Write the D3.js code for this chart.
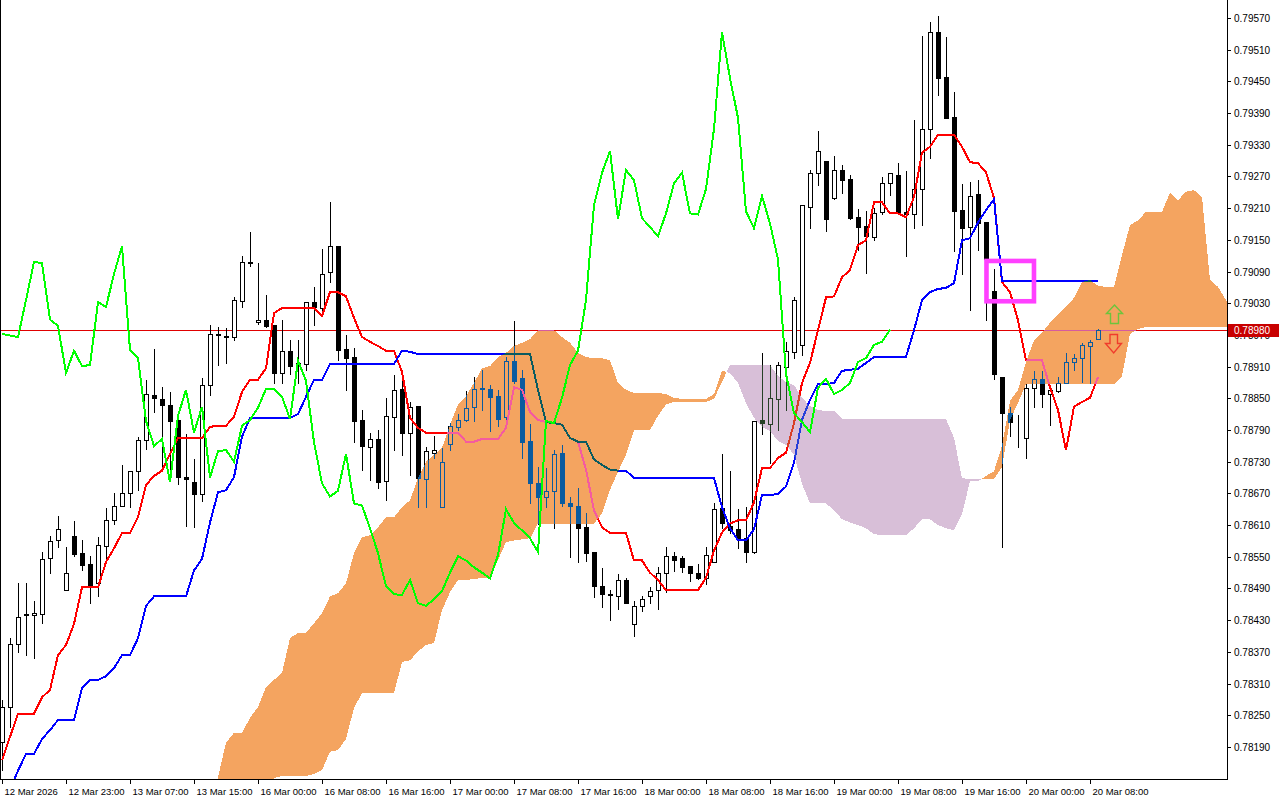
<!DOCTYPE html>
<html><head><meta charset="utf-8">
<script src="https://cdn.jsdelivr.net/npm/d3@7"></script>
<style>
html,body{margin:0;padding:0;background:#fff;}
svg{display:block;}
text{font-family:"Liberation Sans",Arial,sans-serif;fill:#000;}
</style></head><body>
<svg id="chart" width="1280" height="800"></svg>
<script>
// ---- DATA (H1 bars, index 0..137) ----
const timeLabels = ["12 Mar 2026","12 Mar 23:00","13 Mar 07:00","13 Mar 15:00","16 Mar 00:00","16 Mar 08:00","16 Mar 16:00","17 Mar 00:00","17 Mar 08:00","17 Mar 16:00","18 Mar 00:00","18 Mar 08:00","18 Mar 16:00","19 Mar 00:00","19 Mar 08:00","19 Mar 16:00","20 Mar 00:00","20 Mar 08:00"];
const priceTicks = [0.79570,0.79510,0.79450,0.79390,0.79330,0.79270,0.79210,0.79150,0.79090,0.79030,0.78970,0.78910,0.78850,0.78790,0.78730,0.78670,0.78610,0.78550,0.78490,0.78430,0.78370,0.78310,0.78250,0.78190];
const lastPrice = 0.78980;

const opens = [0.78199,0.78266,0.78385,0.78439,0.78440,0.78441,0.78547,0.78581,0.78488,0.78589,0.78557,0.78536,0.78500,0.78570,0.78619,0.78646,0.78671,0.78713,0.78771,0.78856,0.78849,0.78838,0.78809,0.78701,0.78691,0.78669,0.78875,0.78971,0.78968,0.78966,0.79034,0.79108,0.78994,0.78999,0.78989,0.78898,0.78940,0.78917,0.78915,0.79032,0.79021,0.79089,0.79138,0.78943,0.78928,0.78809,0.78758,0.78773,0.78693,0.78815,0.78868,0.78785,0.78836,0.78697,0.78747,0.78644,0.78764,0.78796,0.78809,0.78834,0.78869,0.78868,0.78855,0.78815,0.78921,0.78889,0.78769,0.78689,0.78664,0.78675,0.78747,0.78651,0.78647,0.78606,0.78559,0.78494,0.78480,0.78475,0.78506,0.78423,0.78457,0.78475,0.78487,0.78520,0.78551,0.78547,0.78532,0.78520,0.78509,0.78540,0.78642,0.78608,0.78602,0.78585,0.78559,0.78809,0.78802,0.78849,0.78909,0.78938,0.78951,0.79212,0.79277,0.79300,0.79229,0.79282,0.79265,0.79193,0.79176,0.79155,0.79202,0.79257,0.79273,0.79202,0.79198,0.79246,0.79360,0.79543,0.79458,0.79383,0.79206,0.79174,0.79237,0.79183,0.79053,0.78890,0.78822,0.78787,0.78775,0.78870,0.78887,0.78858,0.78864,0.78879,0.78919,0.78926,0.78949,0.78962];
const highs = [0.78279,0.78396,0.78500,0.78500,0.78466,0.78559,0.78589,0.78627,0.78568,0.78617,0.78581,0.78551,0.78587,0.78642,0.78671,0.78724,0.78713,0.78777,0.78885,0.78943,0.78871,0.78862,0.78824,0.78783,0.78735,0.78888,0.78989,0.78985,0.78983,0.79042,0.79119,0.79164,0.79106,0.79046,0.78989,0.78998,0.78960,0.78960,0.79032,0.79061,0.79132,0.79221,0.79138,0.78970,0.78945,0.78828,0.78785,0.78790,0.78851,0.78894,0.78885,0.78843,0.78836,0.78758,0.78779,0.78756,0.78803,0.78820,0.78864,0.78890,0.78904,0.78875,0.78866,0.78928,0.78996,0.78904,0.78802,0.78720,0.78718,0.78752,0.78762,0.78664,0.78681,0.78632,0.78559,0.78528,0.78487,0.78517,0.78510,0.78466,0.78475,0.78492,0.78530,0.78568,0.78559,0.78551,0.78532,0.78536,0.78568,0.78651,0.78745,0.78713,0.78640,0.78644,0.78807,0.78936,0.78913,0.78919,0.78957,0.79042,0.79216,0.79282,0.79356,0.79300,0.79309,0.79291,0.79273,0.79208,0.79204,0.79210,0.79269,0.79277,0.79296,0.79280,0.79377,0.79536,0.79562,0.79574,0.79534,0.79430,0.79256,0.79260,0.79263,0.79183,0.79094,0.78890,0.78834,0.78819,0.78877,0.78902,0.78902,0.78871,0.78890,0.78936,0.78934,0.78955,0.78960,0.78981];
const lows = [0.78146,0.78228,0.78370,0.78364,0.78358,0.78424,0.78520,0.78568,0.78488,0.78551,0.78525,0.78462,0.78475,0.78540,0.78612,0.78646,0.78644,0.78677,0.78754,0.78824,0.78713,0.78696,0.78687,0.78608,0.78606,0.78655,0.78856,0.78913,0.78917,0.78960,0.79023,0.79100,0.78991,0.78985,0.78879,0.78879,0.78896,0.78879,0.78904,0.78989,0.79017,0.79070,0.78922,0.78866,0.78768,0.78715,0.78696,0.78680,0.78657,0.78752,0.78743,0.78705,0.78644,0.78644,0.78737,0.78644,0.78752,0.78790,0.78807,0.78807,0.78828,0.78788,0.78798,0.78800,0.78879,0.78737,0.78651,0.78613,0.78644,0.78604,0.78647,0.78549,0.78540,0.78542,0.78473,0.78455,0.78430,0.78451,0.78462,0.78400,0.78447,0.78462,0.78451,0.78483,0.78523,0.78521,0.78504,0.78508,0.78498,0.78540,0.78604,0.78595,0.78566,0.78540,0.78557,0.78783,0.78728,0.78790,0.78828,0.78926,0.78932,0.79172,0.79254,0.79166,0.79227,0.79239,0.79189,0.79130,0.79087,0.79149,0.79198,0.79235,0.79198,0.79119,0.79172,0.79178,0.79305,0.79424,0.79381,0.79129,0.79085,0.79017,0.79130,0.78998,0.78886,0.78568,0.78779,0.78758,0.78737,0.78834,0.78834,0.78800,0.78862,0.78879,0.78904,0.78881,0.78879,0.78962];
const closes = [0.78266,0.78385,0.78436,0.78441,0.78443,0.78545,0.78579,0.78602,0.78520,0.78555,0.78534,0.78494,0.78572,0.78619,0.78646,0.78671,0.78713,0.78771,0.78858,0.78851,0.78838,0.78807,0.78701,0.78697,0.78669,0.78875,0.78972,0.78969,0.78966,0.79036,0.79108,0.79106,0.78999,0.78987,0.78898,0.78940,0.78911,0.78913,0.79032,0.79023,0.79085,0.79138,0.78942,0.78926,0.78807,0.78760,0.78773,0.78691,0.78817,0.78866,0.78785,0.78834,0.78700,0.78750,0.78752,0.78730,0.78798,0.78809,0.78832,0.78868,0.78867,0.78853,0.78811,0.78921,0.78883,0.78767,0.78689,0.78664,0.78675,0.78745,0.78651,0.78647,0.78604,0.78557,0.78494,0.78479,0.78478,0.78506,0.78462,0.78457,0.78470,0.78485,0.78520,0.78551,0.78543,0.78530,0.78520,0.78509,0.78553,0.78640,0.78614,0.78600,0.78585,0.78559,0.78807,0.78803,0.78851,0.78913,0.78940,0.79036,0.79216,0.79277,0.79318,0.79189,0.79282,0.79263,0.79191,0.79174,0.79157,0.79200,0.79257,0.79277,0.79200,0.79198,0.79246,0.79360,0.79543,0.79456,0.79381,0.79204,0.79172,0.79233,0.79181,0.79113,0.78896,0.78822,0.78805,0.78786,0.78870,0.78887,0.78858,0.78866,0.78879,0.78919,0.78926,0.78951,0.78957,0.78980];

const tenkan = [0.78165,0.78209,0.78253,0.78253,0.78253,0.78284,0.78298,0.78364,0.78383,0.78423,0.78492,0.78492,0.78492,0.78540,0.78566,0.78595,0.78595,0.78625,0.78686,0.78703,0.78713,0.78745,0.78775,0.78775,0.78775,0.78775,0.78796,0.78798,0.78798,0.78815,0.78862,0.78885,0.78885,0.78907,0.79011,0.79021,0.79021,0.79021,0.79021,0.79021,0.79006,0.79051,0.79051,0.79043,0.79002,0.78966,0.78957,0.78949,0.78940,0.78940,0.78900,0.78813,0.78794,0.78785,0.78785,0.78785,0.78785,0.78785,0.78768,0.78768,0.78773,0.78773,0.78773,0.78794,0.78871,0.78866,0.78824,0.78809,0.78805,0.78803,0.78800,0.78775,0.78768,0.78715,0.78638,0.78606,0.78595,0.78595,0.78595,0.78543,0.78543,0.78520,0.78506,0.78487,0.78487,0.78487,0.78487,0.78487,0.78510,0.78562,0.78596,0.78613,0.78619,0.78619,0.78653,0.78718,0.78718,0.78737,0.78747,0.78803,0.78879,0.78917,0.78979,0.79041,0.79043,0.79079,0.79093,0.79140,0.79149,0.79221,0.79221,0.79200,0.79200,0.79193,0.79231,0.79315,0.79326,0.79349,0.79349,0.79349,0.79326,0.79297,0.79295,0.79278,0.79229,0.79070,0.79051,0.78998,0.78922,0.78922,0.78922,0.78871,0.78828,0.78752,0.78834,0.78843,0.78851,0.78890];
const kijun = [0.78080,0.78109,0.78145,0.78177,0.78177,0.78205,0.78222,0.78241,0.78241,0.78241,0.78301,0.78317,0.78317,0.78324,0.78339,0.78364,0.78364,0.78396,0.78457,0.78475,0.78475,0.78475,0.78475,0.78475,0.78524,0.78546,0.78615,0.78672,0.78676,0.78701,0.78777,0.78813,0.78813,0.78813,0.78813,0.78813,0.78813,0.78820,0.78853,0.78885,0.78885,0.78915,0.78915,0.78915,0.78915,0.78915,0.78915,0.78915,0.78915,0.78915,0.78940,0.78938,0.78934,0.78934,0.78934,0.78934,0.78934,0.78934,0.78934,0.78934,0.78934,0.78934,0.78934,0.78934,0.78934,0.78934,0.78934,0.78866,0.78805,0.78803,0.78800,0.78775,0.78768,0.78768,0.78734,0.78724,0.78715,0.78713,0.78713,0.78699,0.78699,0.78699,0.78699,0.78699,0.78699,0.78699,0.78699,0.78699,0.78699,0.78699,0.78644,0.78604,0.78581,0.78581,0.78602,0.78667,0.78667,0.78669,0.78683,0.78728,0.78809,0.78847,0.78877,0.78877,0.78879,0.78902,0.78904,0.78906,0.78917,0.78928,0.78928,0.78928,0.78928,0.78928,0.78979,0.79036,0.79051,0.79057,0.79059,0.79068,0.79149,0.79153,0.79183,0.79206,0.79227,0.79072,0.79072,0.79072,0.79072,0.79072,0.79072,0.79072,0.79072,0.79072,0.79072,0.79072,0.79072,0.79072];
// Senkou spans, first value belongs to bar 26 (already shifted forward)
const spanStart = 26;
const senkouA = [0.78080,0.78133,0.78198,0.78217,0.78217,0.78245,0.78266,0.78303,0.78317,0.78330,0.78396,0.78406,0.78406,0.78424,0.78443,0.78475,0.78481,0.78500,0.78557,0.78587,0.78591,0.78606,0.78625,0.78625,0.78644,0.78657,0.78699,0.78730,0.78743,0.78756,0.78800,0.78838,0.78854,0.78879,0.78907,0.78911,0.78928,0.78936,0.78949,0.78955,0.78962,0.78979,0.78979,0.78979,0.78966,0.78955,0.78936,0.78928,0.78926,0.78926,0.78922,0.78879,0.78866,0.78860,0.78860,0.78860,0.78860,0.78858,0.78851,0.78849,0.78849,0.78849,0.78849,0.78858,0.78902,0.78898,0.78879,0.78841,0.78813,0.78796,0.78788,0.78769,0.78762,0.78743,0.78688,0.78651,0.78651,0.78651,0.78638,0.78621,0.78615,0.78610,0.78604,0.78593,0.78591,0.78591,0.78591,0.78591,0.78604,0.78621,0.78621,0.78610,0.78604,0.78600,0.78631,0.78693,0.78693,0.78703,0.78712,0.78760,0.78845,0.78866,0.78919,0.78960,0.78974,0.78993,0.79008,0.79023,0.79040,0.79070,0.79074,0.79063,0.79061,0.79061,0.79121,0.79178,0.79187,0.79203,0.79203,0.79203,0.79239,0.79225,0.79241,0.79244,0.79231,0.79074,0.79061,0.79036,0.78998];
const senkouB = [0.78040,0.78040,0.78040,0.78040,0.78040,0.78040,0.78040,0.78118,0.78131,0.78135,0.78135,0.78135,0.78135,0.78139,0.78146,0.78181,0.78184,0.78205,0.78264,0.78292,0.78292,0.78292,0.78292,0.78292,0.78351,0.78354,0.78371,0.78383,0.78387,0.78449,0.78483,0.78506,0.78506,0.78508,0.78510,0.78510,0.78544,0.78578,0.78581,0.78583,0.78585,0.78613,0.78613,0.78613,0.78613,0.78613,0.78613,0.78613,0.78613,0.78632,0.78677,0.78711,0.78743,0.78790,0.78790,0.78790,0.78817,0.78838,0.78843,0.78843,0.78843,0.78843,0.78843,0.78849,0.78881,0.78913,0.78913,0.78913,0.78913,0.78913,0.78913,0.78892,0.78881,0.78875,0.78851,0.78835,0.78828,0.78826,0.78826,0.78811,0.78811,0.78811,0.78811,0.78811,0.78811,0.78811,0.78811,0.78811,0.78811,0.78811,0.78811,0.78811,0.78811,0.78775,0.78699,0.78697,0.78697,0.78697,0.78697,0.78720,0.78809,0.78841,0.78877,0.78877,0.78877,0.78877,0.78877,0.78877,0.78877,0.78877,0.78877,0.78877,0.78877,0.78877,0.78892,0.78972,0.78981,0.78985,0.78985,0.78985,0.78985,0.78985,0.78985,0.78985,0.78985,0.78985,0.78985,0.78985,0.78985];
const chikouShift = 26;

// ---- LAYOUT ----
const W = 1280, H = 800, plotR = 1227, plotB = 779;
const x = d3.scaleLinear().domain([0, 153]).range([2, 1226]);
const y = d3.scaleLinear().domain([0.7957, 0.7819]).range([17.96, 746.97]);

const svg = d3.select('#chart');
svg.append('rect').attr('width', W).attr('height', H).attr('fill', '#fff');
svg.append('defs').append('clipPath').attr('id', 'clip')
  .append('rect').attr('x', 0).attr('y', 0).attr('width', plotR).attr('height', plotB);
const g = svg.append('g').attr('clip-path', 'url(#clip)');
g.append('rect').attr('width', plotR).attr('height', plotB).attr('fill', '#fff');

// price (bid) line
const py = Math.round(y(lastPrice)) + 0.5;
g.append('line').attr('x1', 0).attr('x2', plotR).attr('y1', py).attr('y2', py)
  .attr('stroke', '#e00000').attr('stroke-width', 1).attr('shape-rendering', 'crispEdges');

// candles
const cg = g.append('g').attr('shape-rendering', 'crispEdges');
opens.forEach((o, i) => {
  const c = closes[i], cx = Math.round(x(i));
  cg.append('line').attr('x1', cx + 0.5).attr('x2', cx + 0.5)
    .attr('y1', Math.round(y(highs[i]))).attr('y2', Math.round(y(lows[i])) + 1)
    .attr('stroke', '#000');
  const t = Math.round(y(Math.max(o, c))), b = Math.round(y(Math.min(o, c)));
  cg.append('rect').attr('x', cx - 1.5).attr('y', t + 0.5)
    .attr('width', 4).attr('height', Math.max(b - t, 0))
    .attr('fill', c >= o ? '#fff' : '#000').attr('stroke', '#000');
});

const line = d3.line().x(d => x(d[0])).y(d => y(d[1]));
g.append('path').attr('d', line(tenkan.map((v, i) => [i, v])))
  .attr('fill', 'none').attr('stroke', '#ff0000').attr('stroke-width', 2).attr('shape-rendering', 'crispEdges');
g.append('path').attr('d', line(kijun.map((v, i) => [i, v])))
  .attr('fill', 'none').attr('stroke', '#0000ff').attr('stroke-width', 2).attr('shape-rendering', 'crispEdges');

// cloud (XOR-like drawing emulated with difference blending)
const runs = []; let cur = null;
for (let k = 0; k < senkouA.length; k++) {
  const a = senkouA[k], b = senkouB[k], xi = spanStart + k, s = a >= b ? 1 : -1;
  if (!cur) { cur = {s, top: [[xi, a]], bot: [[xi, b]]}; continue; }
  if (s !== cur.s) {
    const pa = senkouA[k - 1], pb = senkouB[k - 1];
    const d0 = pa - pb, d1 = a - b, t = d0 / (d0 - d1);
    const xc = xi - 1 + t, vc = pa + (a - pa) * t;
    cur.top.push([xc, vc]); cur.bot.push([xc, vc]); runs.push(cur);
    cur = {s, top: [[xc, vc], [xi, a]], bot: [[xc, vc], [xi, b]]};
  } else { cur.top.push([xi, a]); cur.bot.push([xi, b]); }
}
runs.push(cur);
runs.forEach(r => {
  const pts = r.top.concat(r.bot.slice().reverse());
  g.append('path').attr('d', 'M' + pts.map(p => x(p[0]) + ',' + y(p[1])).join('L') + 'Z')
    .attr('fill', r.s > 0 ? 'rgb(11,91,159)' : 'rgb(39,64,39)')
    .attr('shape-rendering', 'crispEdges')
    .style('mix-blend-mode', 'difference');
});

// chikou span = closes shifted back 26 bars
const chikou = closes.map((v, i) => [i - chikouShift, v]).filter(d => d[0] >= 0);
g.append('path').attr('d', line(chikou))
  .attr('fill', 'none').attr('stroke', '#00ff00').attr('stroke-width', 2).attr('shape-rendering', 'crispEdges');

// magenta marker box
g.append('rect').attr('x', x(123.06)).attr('y', y(0.79110)).attr('width', 47.5).attr('height', 40.3)
  .attr('fill', 'none').attr('stroke', '#ff40ff').attr('stroke-width', 4.6);

// arrows
g.append('path').attr('d', 'M1114.5,305 L1122.5,313.5 L1118.5,313.5 L1118.5,323.5 L1110.5,323.5 L1110.5,313.5 L1106.5,313.5 Z')
  .attr('fill', 'none').attr('stroke', '#6cc43c').attr('stroke-width', 1.4);
g.append('path').attr('d', 'M1110,334.5 L1117.5,334.5 L1117.5,343.5 L1121.5,343.5 L1113.7,353 L1105.5,343.5 L1110,343.5 Z')
  .attr('fill', 'none').attr('stroke', '#f03c2c').attr('stroke-width', 1.4);

// left border
svg.append('line').attr('x1', 0.5).attr('x2', 0.5).attr('y1', 0).attr('y2', plotB).attr('stroke', '#000');

// axes
svg.append('line').attr('x1', plotR + 0.5).attr('x2', plotR + 0.5).attr('y1', 0).attr('y2', plotB + 1).attr('stroke', '#000');
svg.append('line').attr('x1', 0).attr('x2', plotR + 1).attr('y1', plotB + 0.5).attr('y2', plotB + 0.5).attr('stroke', '#000');

priceTicks.forEach(p => {
  const ty = Math.round(y(p)) + 0.5;
  svg.append('line').attr('x1', plotR).attr('x2', plotR + 4).attr('y1', ty).attr('y2', ty).attr('stroke', '#000');
  svg.append('text').attr('x', plotR + 7).attr('y', ty).attr('dy', '0.35em')
    .style('font-size', '10px').text(p.toFixed(5));
});
timeLabels.forEach((s, k) => {
  const tx = Math.round(x(k * 8)) + 0.5;
  svg.append('line').attr('x1', tx).attr('x2', tx).attr('y1', plotB).attr('y2', plotB + 5).attr('stroke', '#000');
  svg.append('text').attr('x', tx + 2).attr('y', 795).style('font-size', '9.5px').text(s);
});

// current price label (drawn over the 0.78970 grid label, as in the terminal)
svg.append('rect').attr('x', plotR + 1).attr('y', py - 6.5).attr('width', 51).attr('height', 13).attr('fill', '#c80000');
svg.append('text').attr('x', plotR + 7).attr('y', py).attr('dy', '0.35em')
  .style('font-size', '10px').style('fill', '#fff').text(lastPrice.toFixed(5));
</script>
</body></html>
